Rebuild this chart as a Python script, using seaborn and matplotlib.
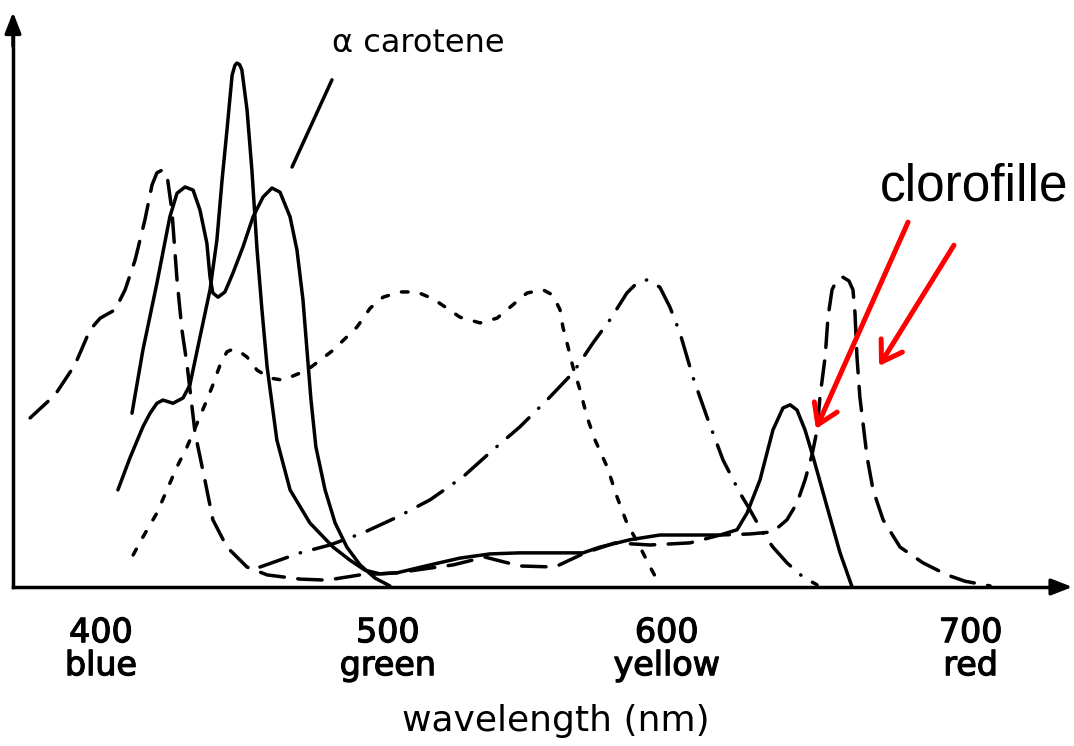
import matplotlib
matplotlib.use("Agg")
import matplotlib.pyplot as plt
import matplotlib.transforms as mtransforms
import matplotlib.patheffects as pe
import pandas as pd
import seaborn as sns

# ---------------- data ----------------
# chlorophyll a (long dashes)
chl_a_nm = [375.3, 384.0, 390.9, 396.2, 399.7, 404.9, 408.4, 411.9, 415.3, 417.8, 419.5, 421.3,
            423.0, 424.7, 426.5, 428.2, 430.0, 432.8, 436.2, 439.0, 443.9, 450.9, 457.9, 469.4,
            478.8, 490.3, 503.2, 514.7, 522.7, 533.8, 546.0, 558.2, 568.7, 579.2, 591.4, 605.3,
            615.8, 626.2, 634.2, 639.1, 642.6, 645.4, 647.8, 649.6, 650.6, 652.4, 653.4, 654.8,
            656.5, 658.6, 660.7, 662.1, 662.8, 663.5, 664.5, 665.6, 667.0, 669.1, 672.6, 678.5,
            686.5, 694.9, 701.1, 709.9]
chl_a_abs = [32.2, 36.6, 42.3, 49.0, 51.2, 52.8, 56.6, 62.3, 69.9, 76.6, 78.9, 79.4,
             78.5, 71.8, 58.5, 49.0, 42.3, 29.3, 20.4, 12.8, 7.6, 3.8, 2.3, 1.5,
             1.3, 2.3, 2.7, 3.6, 4.2, 5.7, 4.0, 3.8, 6.5, 8.4, 8.0, 8.4,
             9.9, 10.1, 10.5, 12.8, 16.0, 20.4, 25.1, 29.9, 36.2, 43.8, 51.4, 56.6,
             58.5, 59.0, 58.3, 56.6, 52.2, 43.8, 36.2, 31.2, 24.8, 18.5, 12.8, 7.6,
             4.6, 2.3, 1.1, 0.2]

# chlorophyll b (solid)
chl_b_nm = [405.9, 410.1, 414.6, 417.1, 419.5, 421.6, 425.1, 428.6, 431.0, 434.5, 438.0, 440.4,
            442.2, 443.9, 445.7, 446.7, 447.4, 448.3, 449.1, 450.9, 452.6, 454.4, 456.1, 457.9,
            461.3, 465.9, 472.8, 480.9, 486.8, 492.0, 497.2, 503.2, 514.7, 525.1, 535.6, 546.0,
            568.0, 573.9, 584.4, 594.8, 605.3, 615.8, 621.7, 625.2, 629.7, 634.2, 637.7, 640.2,
            642.6, 645.4, 648.2, 653.1, 657.6, 661.8]
chl_b_abs = [18.5, 24.6, 30.5, 33.1, 35.0, 35.6, 35.0, 36.0, 38.5, 47.6, 56.6, 66.1,
             77.5, 87.0, 97.5, 99.4, 99.8, 99.5, 98.5, 90.9, 79.4, 64.2, 52.8, 41.9,
             28.0, 18.5, 12.2, 7.6, 5.1, 3.2, 2.5, 2.7, 4.2, 5.5, 6.3, 6.5,
             6.5, 7.6, 9.0, 9.9, 9.9, 9.9, 10.9, 14.1, 20.4, 29.9, 34.1, 34.7,
             33.7, 29.9, 24.8, 15.2, 6.5, 0.0]

# alpha carotene (solid)
carot_nm = [410.8, 414.6, 419.5, 424.0, 426.5, 429.3, 432.1, 434.5, 436.9, 438.0, 439.0, 440.8,
            443.2, 446.0, 449.5, 453.0, 456.5, 459.6, 462.4, 465.9, 468.3, 470.4, 471.8, 473.2,
            474.9, 478.1, 481.6, 485.7, 490.3, 495.5, 500.7]
carot_abs = [33.1, 45.1, 57.9, 70.5, 75.0, 76.2, 75.6, 71.8, 65.5, 59.0, 56.0, 55.2,
             56.2, 59.8, 64.8, 70.5, 74.3, 76.0, 75.2, 70.5, 64.2, 54.7, 45.1, 35.6,
             26.7, 18.5, 12.2, 7.6, 4.2, 1.7, 0.2]

# phycoerythrin (dotted)
phycoery_nm = [411.2, 414.6, 419.5, 423.0, 426.5, 430.0, 433.5, 436.9, 439.0, 441.5, 443.9, 446.0,
               448.4, 450.9, 454.4, 458.9, 463.4, 471.8, 480.9, 489.2, 493.8, 498.3, 504.2, 510.1,
               515.7, 520.6, 525.1, 532.1, 538.0, 542.6, 548.5, 554.1, 557.5, 560.0, 561.0, 562.8,
               564.5, 567.0, 569.4, 572.2, 576.4, 579.9, 583.3, 587.9, 591.4, 594.8]
phycoery_abs = [6.1, 9.5, 14.1, 18.5, 22.9, 26.7, 31.2, 35.6, 38.5, 42.3, 44.8, 45.3,
                44.8, 43.8, 41.3, 39.8, 39.4, 41.3, 45.1, 49.5, 53.1, 55.2, 56.2, 56.2,
                54.9, 53.1, 51.4, 50.3, 51.2, 53.3, 56.0, 56.6, 55.6, 52.8, 49.5, 45.7,
                41.9, 37.5, 32.4, 28.0, 22.9, 17.1, 12.2, 7.6, 3.8, 0.4]

# phycocyanin (dash-dot)
phycocy_nm = [455.4, 469.4, 479.8, 491.3, 503.2, 514.7, 526.2, 536.6, 546.0, 556.5, 564.5, 571.5,
              577.4, 583.3, 586.8, 590.3, 594.8, 598.3, 601.8, 606.3, 611.2, 616.8, 622.7, 626.2,
              630.7, 634.2, 639.1, 644.7, 649.6]
phycocy_abs = [3.8, 6.5, 8.0, 10.3, 13.3, 16.6, 21.0, 26.1, 30.5, 36.2, 40.8, 46.5,
               50.9, 56.0, 57.9, 58.5, 57.1, 53.3, 48.4, 40.0, 32.4, 24.2, 17.9, 14.7,
               10.3, 7.6, 4.6, 1.9, 0.4]

tick_values = [400, 500, 600, 700]
tick_labels = ["400\nblue", "500\ngreen", "600\nyellow", "700\nred"]
x_title = "wavelength (nm)"
carotene_label = "\u03b1 carotene"
chl_label = "clorofille"

# ---------------- styling ----------------
sns.set_style("white")
plt.rcParams["font.family"] = ["DejaVu Sans"]
plt.rcParams["text.color"] = "black"
plt.rcParams["axes.labelcolor"] = "black"
plt.rcParams["xtick.color"] = "black"
plt.rcParams["xtick.labelcolor"] = "black"

fig = plt.figure(figsize=(10.74, 7.46), dpi=100)
ax = fig.add_axes([0, 0, 1, 1])
ax.set_xlim(364.8, 739.14)
ax.set_ylim(-30.29, 111.81)

LW = 2.5
curves = [
    (chl_a_nm, chl_a_abs, (0, (7.0, 3.9))),
    (chl_b_nm, chl_b_abs, "-"),
    (carot_nm, carot_abs, "-"),
    (phycoery_nm, phycoery_abs, (0, (1.9, 3.9))),
    (phycocy_nm, phycocy_abs, (0, (8.4, 3.9, 0.1, 3.9))),
]
for xs, ys, ls in curves:
    df = pd.DataFrame({"nm": xs, "abs": ys})
    sns.lineplot(data=df, x="nm", y="abs", ax=ax, color="black", lw=LW,
                 linestyle=ls, dash_capstyle="round", solid_capstyle="round",
                 solid_joinstyle="round", estimator=None, errorbar=None)

# axes lines
y_axis_x = 369.33
ax.spines[["top", "right"]].set_visible(False)
ax.spines["left"].set_position(("data", y_axis_x))
ax.spines["bottom"].set_position(("data", 0))
ax.spines["left"].set_bounds(0, 106)
ax.spines["bottom"].set_bounds(y_axis_x, 734)
for s in ("left", "bottom"):
    ax.spines[s].set_linewidth(LW)
    ax.spines[s].set_color("black")
ax.annotate("", xy=(y_axis_x, 109.5), xytext=(y_axis_x, 103),
            arrowprops=dict(arrowstyle="-|>,head_length=0.9,head_width=0.35",
                            color="black", lw=LW, shrinkA=0, shrinkB=0, mutation_scale=14))
ax.annotate("", xy=(738.6, 0), xytext=(731, 0),
            arrowprops=dict(arrowstyle="-|>,head_length=0.9,head_width=0.35",
                            color="black", lw=LW, shrinkA=0, shrinkB=0, mutation_scale=14))

ax.set_yticks([])
ax.set_xticks(tick_values)
ax.set_xticklabels(tick_labels, fontsize=24, linespacing=1.0, color="black")
ax.tick_params(axis="x", direction="in", length=13, width=1.5, color="black", pad=21)
for lab in ax.get_xticklabels():
    lab.set_path_effects([pe.withStroke(linewidth=0.9, foreground="black")])
offsets = {"600\nyellow": -8, "700\nred": 9}
for lab in ax.get_xticklabels():
    dx = offsets.get(lab.get_text(), 0)
    if dx:
        lab.set_transform(lab.get_transform() +
                          mtransforms.ScaledTranslation(dx / 100, 0, fig.dpi_scale_trans))

ax.set_xlabel(x_title, fontsize=26, labelpad=16, x=0.5177, color="black")
ax.set_ylabel("")

# annotations
ax.text(480.5, 101.9, carotene_label, fontsize=23, ha="left", va="baseline", color="black")
ax.plot([480.5, 466.6], [96.6, 80.0], color="black", lw=LW)
ax.text(671.5, 73.7, chl_label, fontsize=37, ha="left", va="baseline", color="black",
        family=["Liberation Sans", "DejaVu Sans"])
red_arrow = dict(arrowstyle="->,head_length=0.7,head_width=0.45", color="#ff0000",
                 lw=3.6, shrinkA=0, shrinkB=0, mutation_scale=20)
ax.annotate("", xy=(649.2, 30.1), xytext=(681.3, 69.5), arrowprops=red_arrow)
ax.annotate("", xy=(671.2, 42.1), xytext=(697.3, 65.1), arrowprops=red_arrow)

fig.savefig("out.png", dpi=100)
